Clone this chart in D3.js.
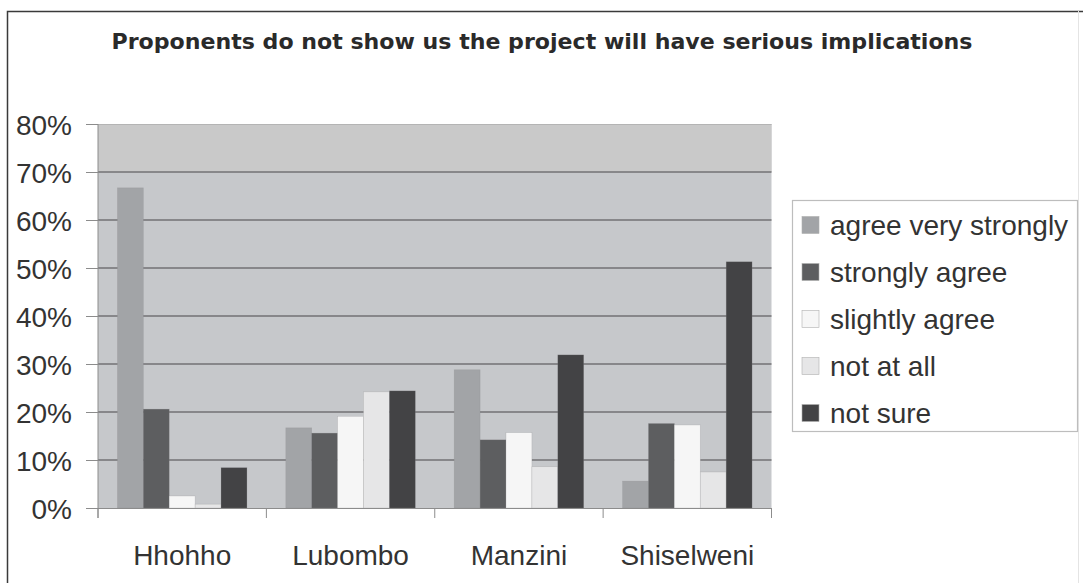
<!DOCTYPE html>
<html>
<head>
<meta charset="utf-8">
<script src="https://cdn.jsdelivr.net/npm/d3@7"></script>
<style>
  html, body { margin: 0; padding: 0; background: #ffffff; }
  svg { display: block; }
</style>
</head>
<body>
<svg id="chart" width="1083" height="583"></svg>
<script>
// Regions and response categories
const categories = ["Hhohho", "Lubombo", "Manzini", "Shiselweni"];
const seriesNames = ["agree very strongly", "strongly agree", "slightly agree", "not at all", "not sure"];

// Share of respondents per region (%)
const agreeVeryStrongly = [66.7, 16.7, 28.8, 5.6];
const stronglyAgree     = [20.6, 15.6, 14.2, 17.6];
const slightlyAgree     = [2.5, 19.1, 15.7, 17.3];
const notAtAll          = [0.8, 24.2, 8.6, 7.5];
const notSure           = [8.4, 24.4, 31.9, 51.3];

const yTicks = [0, 10, 20, 30, 40, 50, 60, 70, 80];
const title = "Proponents do not show us the project will have serious implications";

const seriesValues = [agreeVeryStrongly, stronglyAgree, slightlyAgree, notAtAll, notSure];
const seriesColors = ["#a2a4a7", "#5d5e60", "#f6f6f6", "#e6e6e7", "#434345"];

const svg = d3.select("#chart");
const font = "'Liberation Sans', Arial, sans-serif";
const labelSize = 28;

// Outer frame
svg.append("path")
  .attr("d", "M7.5,583 L7.5,11.5 L1083,11.5")
  .attr("fill", "none").attr("stroke", "#3a3a3a").attr("stroke-width", 1.5);
svg.append("line")
  .attr("x1", 1078.5).attr("x2", 1078.5).attr("y1", 11).attr("y2", 583)
  .attr("stroke", "#e4e4e4").attr("stroke-width", 1);

// Title
svg.append("text")
  .attr("x", 542).attr("y", 49)
  .attr("text-anchor", "middle")
  .attr("font-family", "'DejaVu Sans', Verdana, sans-serif")
  .attr("font-weight", "bold")
  .attr("font-size", 21)
  .attr("fill", "#2a2a2a")
  .attr("textLength", 861)
  .attr("lengthAdjust", "spacingAndGlyphs")
  .text(title);

// Plot area
const plot = { left: 98, right: 771.5, top: 124, bottom: 508 };

const y = d3.scaleLinear().domain([0, 80]).range([plot.bottom, plot.top]);
const x0 = d3.scaleBand().domain(categories).range([plot.left, plot.right]).padding(0);
const x1 = d3.scaleBand().domain(seriesNames).range([0, x0.bandwidth()])
  .paddingInner(0).paddingOuter(0.75);

svg.append("rect")
  .attr("x", plot.left).attr("y", plot.top)
  .attr("width", plot.right - plot.left).attr("height", plot.bottom - plot.top)
  .attr("fill", "#c6c8cb");
svg.append("rect")
  .attr("x", plot.left).attr("y", y(80))
  .attr("width", plot.right - plot.left).attr("height", y(70) - y(80))
  .attr("fill", "#c9c9c9");
svg.append("line")
  .attr("x1", plot.left).attr("x2", plot.right)
  .attr("y1", plot.top + 0.5).attr("y2", plot.top + 0.5)
  .attr("stroke", "#b4b4b4").attr("stroke-width", 1);

// Gridlines
svg.append("g")
  .selectAll("line")
  .data(yTicks.filter(t => t > 0 && t < 80))
  .join("line")
  .attr("x1", plot.left).attr("x2", plot.right)
  .attr("y1", d => y(d)).attr("y2", d => y(d))
  .attr("stroke", "#727274").attr("stroke-width", 1.5);

// Bars
const groups = svg.append("g")
  .selectAll("g")
  .data(categories)
  .join("g")
  .attr("transform", d => `translate(${x0(d)},0)`);

groups.selectAll("rect")
  .data((c, ci) => seriesNames.map((s, si) => ({ s, si, v: seriesValues[si][ci] })))
  .join("rect")
  .attr("x", d => x1(d.s))
  .attr("width", x1.bandwidth())
  .attr("y", d => y(d.v))
  .attr("height", d => y(0) - y(d.v))
  .attr("fill", d => seriesColors[d.si])
  .attr("stroke", "#8a8a8c")
  .attr("stroke-opacity", 0.35)
  .attr("stroke-width", 0.6);

// Y axis
const yAxis = d3.axisLeft(y).tickValues(yTicks).tickSize(12).tickPadding(14)
  .tickFormat(d => d + "%");
const yG = svg.append("g").attr("transform", `translate(${plot.left},0)`).call(yAxis);
yG.select(".domain").attr("stroke", "#8c8c8c").attr("d", `M0,${plot.top}V${plot.bottom + 10}`);
yG.selectAll(".tick line").attr("stroke", "#8c8c8c");
yG.selectAll(".tick text")
  .attr("font-family", font).attr("font-size", labelSize).attr("fill", "#333")
  .attr("dy", "0.36em");

// X axis
const xAxis = d3.axisBottom(x0).tickSize(0).tickPadding(0);
const xG = svg.append("g").attr("transform", `translate(0,${plot.bottom})`).call(xAxis);
xG.select(".domain").attr("stroke", "#8c8c8c").attr("d", `M${plot.left},0.5H${plot.right}`);
xG.selectAll(".tick text")
  .attr("font-family", font).attr("font-size", labelSize).attr("fill", "#333")
  .attr("y", 57).attr("dy", 0);
// Category boundary ticks
xG.append("g")
  .selectAll("line")
  .data(categories.map(c => x0(c)).concat([plot.right]))
  .join("line")
  .attr("x1", d => d).attr("x2", d => d)
  .attr("y1", 0).attr("y2", 10)
  .attr("stroke", "#8c8c8c");

// Legend
const legend = svg.append("g");
legend.append("rect")
  .attr("x", 792.5).attr("y", 200.5).attr("width", 285).attr("height", 231)
  .attr("fill", "#ffffff").attr("stroke", "#bdbdbd").attr("stroke-width", 1.2);

const legendY = d3.scalePoint().domain(seriesNames).range([225, 413]);
const items = legend.selectAll("g.item")
  .data(seriesNames)
  .join("g")
  .attr("class", "item")
  .attr("transform", d => `translate(0,${legendY(d)})`);
items.append("rect")
  .attr("x", 802).attr("y", -8.5).attr("width", 17).attr("height", 17)
  .attr("fill", (d, i) => seriesColors[i])
  .attr("stroke", "#b0b0b0").attr("stroke-width", 0.6);
items.append("text")
  .attr("x", 830).attr("y", 0).attr("dy", "0.36em")
  .attr("font-family", font).attr("font-size", labelSize).attr("fill", "#333")
  .text(d => d);
</script>
</body>
</html>
